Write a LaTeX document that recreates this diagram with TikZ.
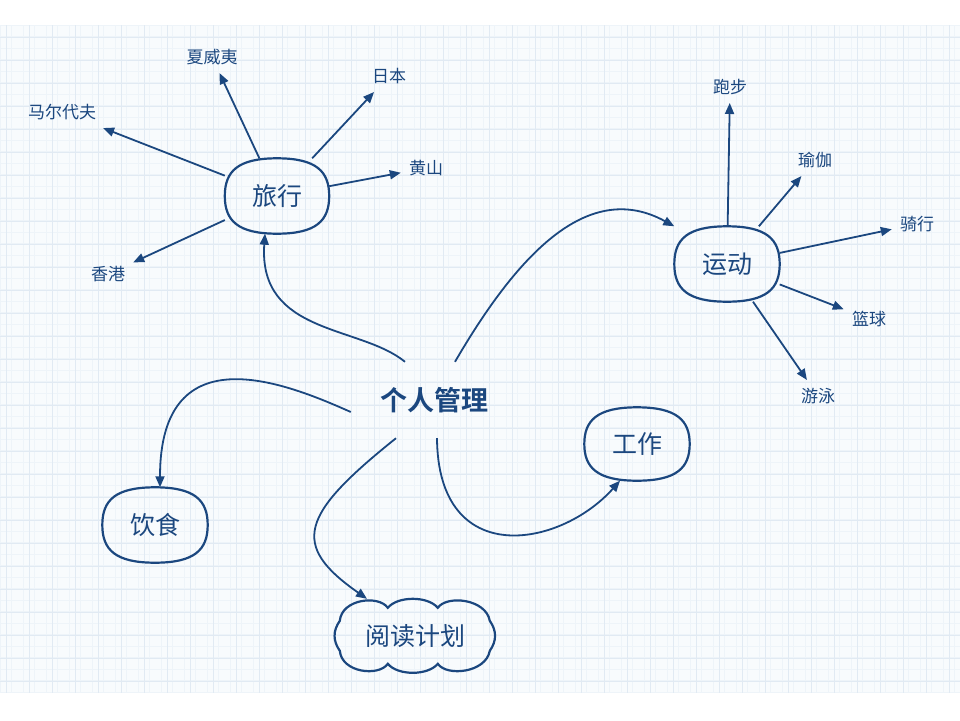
\documentclass[tikz,border=0pt]{standalone}
\usepackage{fontspec}
\setmainfont{Noto Sans CJK SC}[BoldFont={Noto Sans CJK SC Bold}]
\usetikzlibrary{arrows.meta}
\definecolor{inkblue}{RGB}{27,71,127}
\definecolor{gridminor}{RGB}{238,244,249}
\definecolor{gridmajor}{RGB}{225,234,243}
\definecolor{paper}{RGB}{248,251,253}

\begin{document}
\begin{tikzpicture}[
    x=1pt, y=-1pt,
    font=\fontsize{17}{20}\selectfont,
    hub/.style={text=inkblue, font=\fontsize{27}{30}\selectfont\bfseries, minimum width=166pt, minimum height=76pt},
    topic/.style={text=inkblue, font=\fontsize{25}{28}\selectfont, minimum width=105pt, minimum height=75pt, inner sep=0pt},
    leaf/.style={text=inkblue, inner sep=8pt},
    outline/.style={draw=inkblue, line width=2.2pt},
    spoke/.style={draw=inkblue, line width=1.8pt, -{Triangle[length=11pt,width=9pt]}},
    branch/.style={spoke}
  ]
  \useasboundingbox (0,0) rectangle (960,720);
  \fill[white] (0,0) rectangle (960,720);

  % Carta a quadretti
  \fill[paper] (0,25) rectangle (960,693);
  \foreach \gx in {0,11.5,...,960} \draw[gridminor, line width=0.6pt] (\gx,25) -- (\gx,693);
  \foreach \gy in {25,36.5,...,693} \draw[gridminor, line width=0.6pt] (0,\gy) -- (960,\gy);
  \foreach \gx in {6,29,...,960} \draw[gridmajor, line width=0.6pt] (\gx,25) -- (\gx,693);
  \foreach \gy in {37,60,...,693} \draw[gridmajor, line width=0.6pt] (0,\gy) -- (960,\gy);

  % Nodi
  \node (me) [hub] at (434,400) {个人管理};
  \node (travel) [topic, minimum width=104pt] at (277,196) {旅行};
  \node (sport) [topic] at (727,264) {运动};
  \node (food) [topic] at (155,525) {饮食};
  \node (work) [topic, minimum height=73pt] at (637,444) {工作};
  \node (read) [topic, minimum width=162pt, minimum height=74pt] at (415,636) {阅读计划};

  % Foglie di viaggio
  \node (hawaii) [leaf] at (212,57) {夏威夷};
  \node (maldives) [leaf] at (62,112) {马尔代夫};
  \node (japan) [leaf] at (389,76) {日本};
  \node (huangshan) [leaf] at (426,168) {黄山};
  \node (hongkong) [leaf] at (108,274) {香港};

  % Foglie di sport
  \node (running) [leaf] at (730,87) {跑步};
  \node (yoga) [leaf] at (815,160) {瑜伽};
  \node (cycling) [leaf] at (917,224) {骑行};
  \node (basketball) [leaf] at (869,319) {篮球};
  \node (swimming) [leaf] at (818,396) {游泳};

  % Contorni
  \foreach \n in {travel,sport,food,work}
    \draw[outline] (\n.north)
      .. controls ([xshift=-13pt]\n.north east) and ([yshift=-13pt]\n.north east) .. (\n.east)
      .. controls ([yshift=13pt]\n.south east) and ([xshift=-13pt]\n.south east) .. (\n.south)
      .. controls ([xshift=13pt]\n.south west) and ([yshift=13pt]\n.south west) .. (\n.west)
      .. controls ([yshift=-13pt]\n.north west) and ([xshift=13pt]\n.north west) .. (\n.north) -- cycle;
  \draw[outline, shift={(read.north west)}] (6,22)
    .. controls (8,0) and (45,-4) .. (54,9)
    .. controls (64,-3) and (94,-3) .. (104,9)
    .. controls (113,-4) and (152,0) .. (156,22)
    .. controls (163,32) and (163,42) .. (156,52)
    .. controls (152,74) and (113,78) .. (104,65)
    .. controls (94,77) and (64,77) .. (54,65)
    .. controls (45,78) and (8,74) .. (6,52)
    .. controls (-1,42) and (-1,32) .. (6,22) -- cycle;

  % Collegamenti
  \foreach \leafname in {hawaii,maldives,japan,huangshan,hongkong}
    \draw[spoke] (travel) -- (\leafname);
  \foreach \leafname in {running,yoga,cycling,basketball,swimming}
    \draw[spoke] (sport) -- (\leafname);

  \draw[branch] ([xshift=-29pt]me.north) .. controls (360,325) and (258,335) .. ([xshift=-12pt]travel.south);
  \draw[branch] ([xshift=21pt]me.north) .. controls (520,250) and (590,180) .. (sport.north west);
  \draw[branch] ([yshift=-12pt]me.west) .. controls (290,385) and (160,330) .. ([xshift=5pt]food.north);
  \draw[branch] ([xshift=-38pt]me.south) .. controls (300,515) and (290,545) .. ([xshift=-48pt]read.north);
  \draw[branch] ([xshift=3pt]me.south) .. controls (438,570) and (560,548) .. ([xshift=-17pt]work.south);
\end{tikzpicture}
\end{document}
